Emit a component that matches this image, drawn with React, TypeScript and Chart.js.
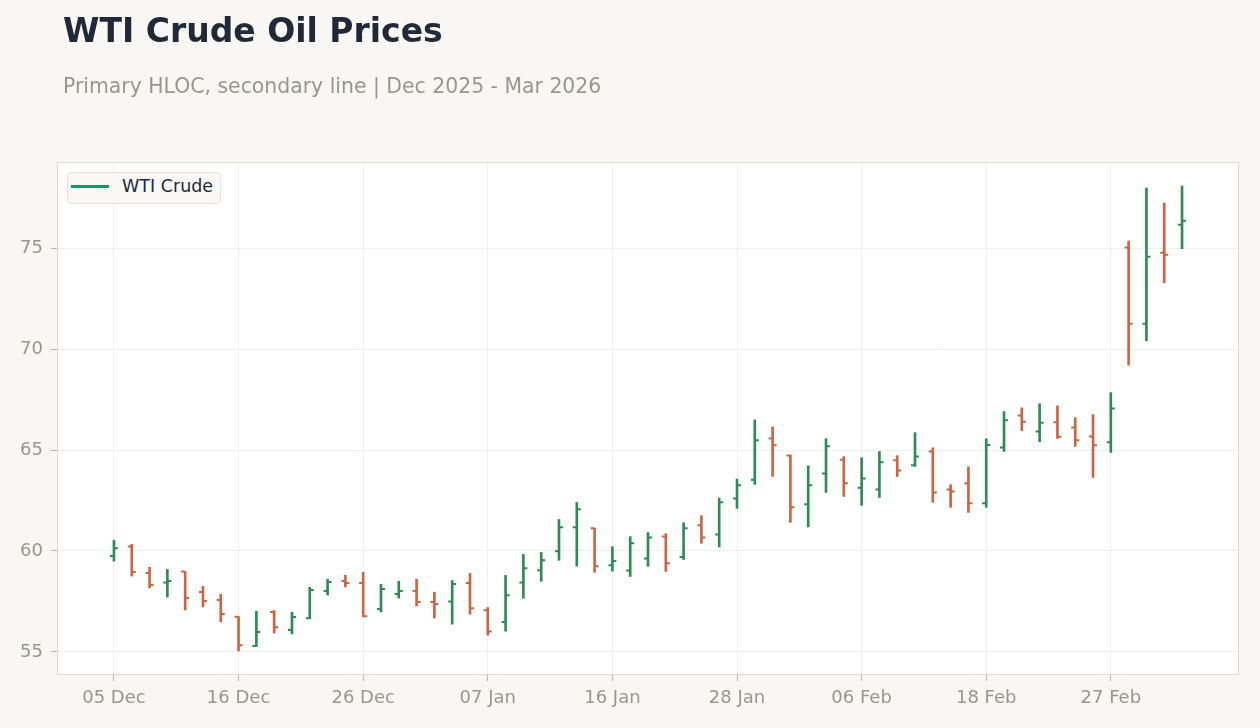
import React, { useEffect, useRef } from "react";
import { Chart, registerables } from "chart.js";

Chart.register(...registerables);

const dates = [
  "05 Dec", "08 Dec", "09 Dec", "10 Dec", "11 Dec", "12 Dec", "15 Dec", "16 Dec", "17 Dec", "18 Dec",
  "19 Dec", "22 Dec", "23 Dec", "24 Dec", "26 Dec", "29 Dec", "30 Dec", "31 Dec",
  "02 Jan", "05 Jan", "06 Jan", "07 Jan", "08 Jan", "09 Jan", "12 Jan", "13 Jan", "14 Jan", "15 Jan",
  "16 Jan", "20 Jan", "21 Jan", "22 Jan", "23 Jan", "26 Jan", "27 Jan", "28 Jan", "29 Jan", "30 Jan",
  "02 Feb", "03 Feb", "04 Feb", "05 Feb", "06 Feb", "09 Feb", "10 Feb", "11 Feb", "12 Feb", "13 Feb",
  "17 Feb", "18 Feb", "19 Feb", "20 Feb", "23 Feb", "24 Feb", "25 Feb", "26 Feb", "27 Feb",
  "02 Mar", "03 Mar", "04 Mar", "05 Mar",
];

const opens = [
  59.75, 60.22, 58.91, 58.44, 58.98, 57.97, 57.57, 56.75, 55.30, 56.98,
  56.09, 56.67, 58.02, 58.51, 58.42, 57.13, 57.87, 58.02, 57.48, 57.50,
  58.41, 57.07, 56.48, 58.44, 59.05, 59.99, 61.18, 61.13, 59.30, 59.04,
  59.63, 60.72, 59.70, 61.27, 60.82, 62.60, 63.53, 65.57, 64.73, 62.31,
  63.84, 64.52, 63.13, 63.05, 64.49, 64.24, 64.93, 63.05, 63.35, 62.36,
  65.13, 66.71, 65.92, 66.37, 66.12, 65.67, 65.38, 75.03, 71.25, 74.77,
  76.15,
];

const highs = [
  60.53, 60.33, 59.19, 59.09, 58.98, 58.25, 57.86, 56.75, 57.01, 57.05,
  56.97, 58.20, 58.60, 58.80, 58.95, 58.35, 58.50, 58.60, 57.96, 58.54,
  58.89, 57.20, 58.79, 59.83, 59.93, 61.56, 62.40, 61.13, 60.21, 60.71,
  60.91, 60.86, 61.40, 61.75, 62.62, 63.56, 66.49, 66.14, 64.75, 64.22,
  65.56, 64.67, 64.62, 64.92, 64.72, 65.86, 65.11, 63.28, 64.17, 65.56,
  66.90, 67.09, 67.29, 67.19, 66.60, 66.75, 67.84, 75.35, 77.97, 77.23,
  78.07,
];

const lows = [
  59.50, 58.76, 58.17, 57.72, 57.08, 57.23, 56.49, 55.05, 55.27, 55.94,
  55.89, 56.65, 57.82, 58.22, 56.75, 56.98, 57.67, 57.28, 56.68, 56.38,
  56.87, 55.83, 56.03, 57.66, 58.50, 59.54, 59.25, 58.95, 59.00, 58.74,
  59.24, 58.99, 59.58, 60.38, 60.20, 62.11, 63.30, 63.69, 61.42, 61.19,
  62.90, 62.70, 62.26, 62.65, 63.69, 64.19, 62.41, 62.16, 61.91, 62.16,
  64.93, 65.96, 65.41, 65.57, 65.18, 63.64, 64.88, 69.21, 70.41, 73.28,
  74.97,
];

const closes = [
  60.13, 58.96, 58.32, 58.51, 57.67, 57.52, 56.88, 55.33, 55.99, 56.22,
  56.73, 58.07, 58.47, 58.42, 56.77, 58.12, 58.02, 57.48, 57.38, 58.36,
  57.17, 56.01, 57.81, 59.15, 59.54, 61.18, 62.07, 59.25, 59.50, 60.38,
  60.67, 59.39, 61.12, 60.67, 62.41, 63.25, 65.48, 65.23, 62.16, 63.25,
  65.18, 63.35, 63.59, 64.39, 63.99, 64.68, 62.90, 62.95, 62.36, 65.25,
  66.47, 66.40, 66.35, 65.66, 65.48, 65.23, 67.06, 71.25, 74.57, 74.67,
  76.35,
];

const xTickIndices = [0, 7, 14, 21, 28, 35, 42, 49, 56];
const yTickValues = [55, 60, 65, 70, 75];
const seriesLabel = "WTI Crude";
const titleText = "WTI Crude Oil Prices";
const subtitleText = "Primary HLOC, secondary line | Dec 2025 - Mar 2026";

const UP = "#2e8b57";
const DOWN = "#cc6642";
const LEGEND_GREEN = "#0a9a6a";
const FONT = "'DejaVu Sans', sans-serif";

export default function App() {
  const ref = useRef<HTMLCanvasElement>(null);

  useEffect(() => {
    if (!ref.current) return;
    const colors = opens.map((o, i) => (closes[i] >= o ? UP : DOWN));

    const areaBox = {
      id: "areaBox",
      beforeDraw(chart: any) {
        const { ctx, chartArea: a } = chart;
        ctx.save();
        ctx.fillStyle = "#ffffff";
        ctx.fillRect(a.left, a.top, a.right - a.left, a.bottom - a.top);
        ctx.restore();
      },
      afterDraw(chart: any) {
        const { ctx, chartArea: a } = chart;
        ctx.save();
        ctx.strokeStyle = "#dedad3";
        ctx.lineWidth = 1;
        ctx.strokeRect(
          Math.round(a.left) + 0.5,
          Math.round(a.top) + 0.5,
          Math.round(a.right - a.left) - 1,
          Math.round(a.bottom - a.top) - 1
        );
        ctx.restore();
      },
    };

    const ohlcTicks = {
      id: "ohlcTicks",
      afterDatasetsDraw(chart: any) {
        const xs = chart.scales.x;
        const ys = chart.scales.y;
        const ctx = chart.ctx;
        ctx.save();
        ctx.lineWidth = 2;
        ctx.lineCap = "butt";
        opens.forEach((o, i) => {
          const x = xs.getPixelForValue(i);
          const yo = ys.getPixelForValue(o);
          const yc = ys.getPixelForValue(closes[i]);
          ctx.strokeStyle = colors[i];
          ctx.beginPath();
          ctx.moveTo(x - 4, yo);
          ctx.lineTo(x, yo);
          ctx.moveTo(x, yc);
          ctx.lineTo(x + 4, yc);
          ctx.stroke();
        });
        ctx.restore();
      },
    };

    const tickFont = { family: FONT, size: 18 };

    const chart = new Chart(ref.current, {
      type: "bar",
      data: {
        datasets: [
          {
            label: seriesLabel,
            data: dates.map((_, i) => ({ x: i, y: [lows[i], highs[i]] })) as any,
            backgroundColor: colors,
            borderWidth: 0,
            barThickness: 2,
            grouped: false,
          } as any,
        ],
      },
      options: {
        responsive: false,
        animation: false,
        layout: { padding: { top: 162, right: 21, left: 0, bottom: 0 } },
        plugins: {
          legend: { display: false },
          tooltip: { enabled: false },
          title: { display: false },
        },
        scales: {
          x: {
            type: "linear",
            min: -3.2,
            max: 63.2,
            offset: false,
            afterBuildTicks: (s: any) => {
              s.ticks = xTickIndices.map((v) => ({ value: v }));
            },
            afterFit: (s: any) => {
              s.height = 53;
            },
            ticks: {
              callback: (v: any) => dates[v] ?? "",
              color: "#9a958f",
              font: tickFont,
              padding: 7,
              maxRotation: 0,
              autoSkip: false,
            },
            grid: {
              color: "#f0efed",
              tickColor: "#bdb9b2",
              tickLength: 6,
              offset: false,
            },
            border: { display: false },
          },
          y: {
            type: "linear",
            min: 53.86,
            max: 79.26,
            afterBuildTicks: (s: any) => {
              s.ticks = yTickValues.map((v) => ({ value: v }));
            },
            afterFit: (s: any) => {
              s.width = 57;
            },
            ticks: {
              color: "#9a958f",
              font: tickFont,
              padding: 8,
            },
            grid: {
              color: "#f0efed",
              tickColor: "#bdb9b2",
              tickLength: 6,
            },
            border: { display: false },
          },
        },
      } as any,
      plugins: [areaBox, ohlcTicks],
    });

    return () => chart.destroy();
  }, []);

  return (
    <div
      style={{
        position: "fixed",
        left: 0,
        top: 0,
        width: 1260,
        height: 728,
        background: "#f8f7f4",
        overflow: "hidden",
        fontFamily: FONT,
      }}
    >
      <canvas ref={ref} width={1260} height={728} style={{ position: "absolute", left: 0, top: 0 }} />
      <div
        style={{
          position: "absolute",
          left: 63,
          top: 14,
          fontSize: 33,
          lineHeight: "33px",
          fontWeight: 700,
          color: "#1f2937",
          whiteSpace: "nowrap",
        }}
      >
        {titleText}
      </div>
      <div
        style={{
          position: "absolute",
          left: 63,
          top: 76,
          fontSize: 20.4,
          lineHeight: "20px",
          color: "#9a958f",
          whiteSpace: "nowrap",
        }}
      >
        {subtitleText}
      </div>
      <div
        style={{
          position: "absolute",
          left: 67,
          top: 172,
          width: 152,
          height: 30,
          background: "#f9f8f6",
          border: "1px solid #e6e2dc",
          borderRadius: 4,
        }}
      />
      <div
        style={{
          position: "absolute",
          left: 71,
          top: 184.5,
          width: 38,
          height: 3,
          background: LEGEND_GREEN,
        }}
      />
      <div
        style={{
          position: "absolute",
          left: 122,
          top: 177,
          fontSize: 17.5,
          lineHeight: "18px",
          color: "#1f2937",
          whiteSpace: "nowrap",
        }}
      >
        {seriesLabel}
      </div>
    </div>
  );
}
